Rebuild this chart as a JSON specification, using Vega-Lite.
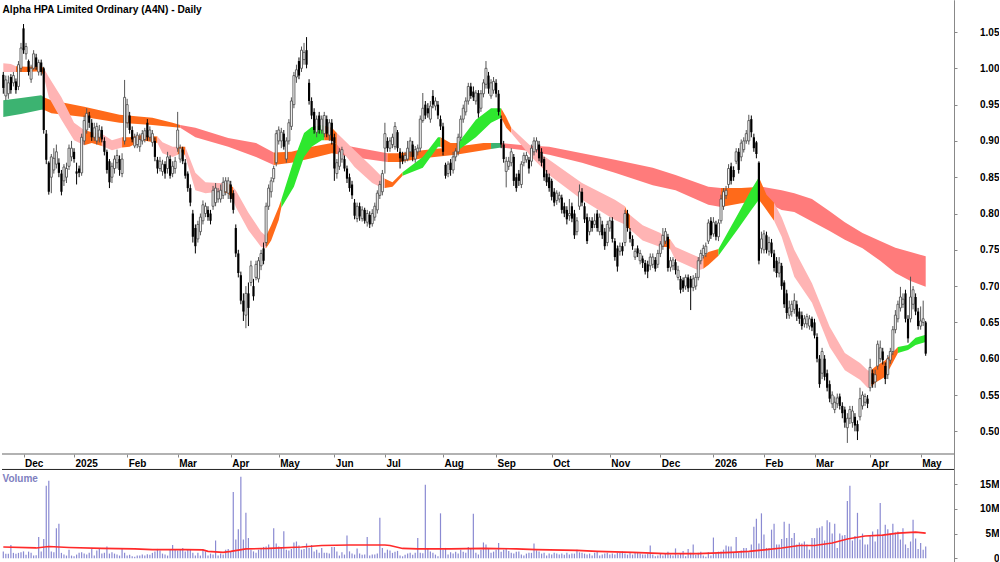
{
"$schema":"https://vega.github.io/schema/vega-lite/v6.json",
"width":952,"height":562,"padding":0,"background":"white",
"config":{"view":{"stroke":null},"font":"Liberation Sans","axis":{"grid":false}},
"datasets":{
"candles":[
{"d":"2024-11-20","o":0.991,"h":0.995,"l":0.965,"c":0.973,"v":1.4},
{"d":"2024-11-21","o":0.962,"h":0.99,"l":0.956,"c":0.984,"v":0.9},
{"d":"2024-11-22","o":0.965,"h":0.99,"l":0.958,"c":0.98,"v":0.9},
{"d":"2024-11-25","o":0.988,"h":0.992,"l":0.965,"c":0.97,"v":2.7},
{"d":"2024-11-26","o":0.98,"h":0.995,"l":0.975,"c":0.99,"v":1.1},
{"d":"2024-11-27","o":0.982,"h":0.986,"l":0.965,"c":0.97,"v":0.9},
{"d":"2024-11-28","o":0.975,"h":1.01,"l":0.97,"c":1.005,"v":1.1},
{"d":"2024-11-29","o":1.0,"h":1.035,"l":0.995,"c":1.028,"v":1.2},
{"d":"2024-12-02","o":1.055,"h":1.061,"l":1.02,"c":1.025,"v":1.4},
{"d":"2024-12-03","o":1.02,"h":1.035,"l":1.012,"c":1.03,"v":0.7},
{"d":"2024-12-04","o":1.01,"h":1.012,"l":0.99,"c":0.995,"v":1.35},
{"d":"2024-12-05","o":0.985,"h":1.005,"l":0.98,"c":1.0,"v":1.1},
{"d":"2024-12-06","o":1.0,"h":1.025,"l":0.998,"c":1.02,"v":0.55},
{"d":"2024-12-09","o":1.015,"h":1.02,"l":0.998,"c":1.002,"v":0.6},
{"d":"2024-12-10","o":0.995,"h":1.012,"l":0.99,"c":1.008,"v":4.3},
{"d":"2024-12-11","o":1.008,"h":1.012,"l":0.99,"c":0.995,"v":1.4},
{"d":"2024-12-12","o":1.0,"h":1.002,"l":0.91,"c":0.915,"v":3.9},
{"d":"2024-12-13","o":0.91,"h":0.915,"l":0.868,"c":0.874,"v":14.7},
{"d":"2024-12-16","o":0.87,"h":0.872,"l":0.826,"c":0.83,"v":15.7},
{"d":"2024-12-17","o":0.85,"h":0.882,"l":0.828,"c":0.878,"v":1.4},
{"d":"2024-12-18","o":0.86,"h":0.89,"l":0.855,"c":0.876,"v":1.2},
{"d":"2024-12-19","o":0.868,"h":0.895,"l":0.862,"c":0.885,"v":6.1},
{"d":"2024-12-20","o":0.87,"h":0.876,"l":0.85,"c":0.856,"v":7.0},
{"d":"2024-12-23","o":0.855,"h":0.86,"l":0.825,"c":0.83,"v":1.1},
{"d":"2024-12-24","o":0.845,"h":0.868,"l":0.838,"c":0.864,"v":0.75},
{"d":"2024-12-27","o":0.85,"h":0.87,"l":0.842,"c":0.862,"v":0.55},
{"d":"2024-12-30","o":0.865,"h":0.895,"l":0.86,"c":0.89,"v":1.75},
{"d":"2024-12-31","o":0.878,"h":0.9,"l":0.872,"c":0.89,"v":0.55},
{"d":"2025-01-02","o":0.885,"h":0.89,"l":0.87,"c":0.875,"v":0.4},
{"d":"2025-01-03","o":0.858,"h":0.87,"l":0.84,"c":0.855,"v":0.75},
{"d":"2025-01-06","o":0.862,"h":0.866,"l":0.85,"c":0.856,"v":1.1},
{"d":"2025-01-07","o":0.856,"h":0.91,"l":0.852,"c":0.905,"v":1.2},
{"d":"2025-01-08","o":0.9,"h":0.935,"l":0.895,"c":0.928,"v":0.95},
{"d":"2025-01-09","o":0.915,"h":0.945,"l":0.91,"c":0.938,"v":0.75},
{"d":"2025-01-10","o":0.935,"h":0.94,"l":0.918,"c":0.925,"v":1.1},
{"d":"2025-01-13","o":0.925,"h":0.93,"l":0.9,"c":0.905,"v":1.9},
{"d":"2025-01-14","o":0.905,"h":0.925,"l":0.9,"c":0.918,"v":0.55},
{"d":"2025-01-15","o":0.9,"h":0.925,"l":0.895,"c":0.92,"v":1.6},
{"d":"2025-01-16","o":0.905,"h":0.922,"l":0.898,"c":0.915,"v":1.9},
{"d":"2025-01-17","o":0.915,"h":0.92,"l":0.898,"c":0.902,"v":0.95},
{"d":"2025-01-20","o":0.9,"h":0.905,"l":0.88,"c":0.885,"v":1.1},
{"d":"2025-01-21","o":0.885,"h":0.888,"l":0.855,"c":0.86,"v":2.4},
{"d":"2025-01-22","o":0.872,"h":0.875,"l":0.835,"c":0.843,"v":0.95},
{"d":"2025-01-23","o":0.85,"h":0.87,"l":0.842,"c":0.865,"v":1.2},
{"d":"2025-01-24","o":0.862,"h":0.88,"l":0.855,"c":0.875,"v":0.95},
{"d":"2025-01-28","o":0.87,"h":0.888,"l":0.862,"c":0.88,"v":0.75},
{"d":"2025-01-29","o":0.875,"h":0.88,"l":0.852,"c":0.86,"v":0.55},
{"d":"2025-01-30","o":0.855,"h":0.883,"l":0.85,"c":0.875,"v":2.1},
{"d":"2025-01-31","o":0.9,"h":0.984,"l":0.895,"c":0.96,"v":1.1},
{"d":"2025-02-03","o":0.925,"h":0.958,"l":0.918,"c":0.95,"v":0.55},
{"d":"2025-02-04","o":0.935,"h":0.94,"l":0.91,"c":0.915,"v":0.7},
{"d":"2025-02-05","o":0.915,"h":0.92,"l":0.898,"c":0.902,"v":0.4},
{"d":"2025-02-06","o":0.893,"h":0.91,"l":0.89,"c":0.905,"v":0.3},
{"d":"2025-02-07","o":0.895,"h":0.912,"l":0.89,"c":0.908,"v":0.55},
{"d":"2025-02-10","o":0.892,"h":0.91,"l":0.885,"c":0.902,"v":0.55},
{"d":"2025-02-11","o":0.9,"h":0.915,"l":0.895,"c":0.91,"v":0.75},
{"d":"2025-02-12","o":0.902,"h":0.918,"l":0.898,"c":0.914,"v":0.55},
{"d":"2025-02-13","o":0.925,"h":0.93,"l":0.9,"c":0.905,"v":0.8},
{"d":"2025-02-14","o":0.905,"h":0.92,"l":0.9,"c":0.915,"v":0.7},
{"d":"2025-02-17","o":0.898,"h":0.915,"l":0.892,"c":0.91,"v":1.1},
{"d":"2025-02-18","o":0.9,"h":0.905,"l":0.872,"c":0.878,"v":1.4},
{"d":"2025-02-19","o":0.874,"h":0.878,"l":0.855,"c":0.862,"v":1.9},
{"d":"2025-02-20","o":0.862,"h":0.878,"l":0.858,"c":0.872,"v":1.6},
{"d":"2025-02-21","o":0.858,"h":0.874,"l":0.852,"c":0.868,"v":0.95},
{"d":"2025-02-24","o":0.868,"h":0.872,"l":0.848,"c":0.855,"v":0.75},
{"d":"2025-02-25","o":0.862,"h":0.885,"l":0.855,"c":0.878,"v":0.55},
{"d":"2025-02-26","o":0.875,"h":0.88,"l":0.848,"c":0.852,"v":1.75},
{"d":"2025-02-27","o":0.855,"h":0.872,"l":0.85,"c":0.865,"v":2.7},
{"d":"2025-02-28","o":0.862,"h":0.878,"l":0.855,"c":0.872,"v":1.75},
{"d":"2025-03-03","o":0.89,"h":0.94,"l":0.885,"c":0.915,"v":1.6},
{"d":"2025-03-04","o":0.875,"h":0.895,"l":0.87,"c":0.89,"v":1.9},
{"d":"2025-03-05","o":0.888,"h":0.892,"l":0.868,"c":0.872,"v":2.1},
{"d":"2025-03-06","o":0.87,"h":0.875,"l":0.848,"c":0.852,"v":1.4},
{"d":"2025-03-07","o":0.855,"h":0.858,"l":0.83,"c":0.835,"v":1.9},
{"d":"2025-03-10","o":0.835,"h":0.84,"l":0.81,"c":0.815,"v":1.75},
{"d":"2025-03-11","o":0.8,"h":0.805,"l":0.76,"c":0.768,"v":1.1},
{"d":"2025-03-12","o":0.78,"h":0.785,"l":0.745,"c":0.755,"v":0.55},
{"d":"2025-03-13","o":0.765,"h":0.79,"l":0.76,"c":0.785,"v":1.1},
{"d":"2025-03-14","o":0.775,"h":0.8,"l":0.77,"c":0.795,"v":0.55},
{"d":"2025-03-17","o":0.79,"h":0.818,"l":0.785,"c":0.812,"v":1.75},
{"d":"2025-03-18","o":0.8,"h":0.815,"l":0.795,"c":0.81,"v":1.4},
{"d":"2025-03-19","o":0.805,"h":0.81,"l":0.79,"c":0.795,"v":0.55},
{"d":"2025-03-20","o":0.8,"h":0.805,"l":0.785,"c":0.79,"v":0.95},
{"d":"2025-03-21","o":0.81,"h":0.838,"l":0.805,"c":0.832,"v":0.75},
{"d":"2025-03-24","o":0.815,"h":0.842,"l":0.81,"c":0.835,"v":3.6},
{"d":"2025-03-25","o":0.82,"h":0.835,"l":0.815,"c":0.83,"v":0.55},
{"d":"2025-03-26","o":0.82,"h":0.84,"l":0.815,"c":0.832,"v":0.95},
{"d":"2025-03-27","o":0.825,"h":0.85,"l":0.82,"c":0.843,"v":0.75},
{"d":"2025-03-28","o":0.83,"h":0.85,"l":0.825,"c":0.845,"v":1.75},
{"d":"2025-03-31","o":0.828,"h":0.85,"l":0.82,"c":0.845,"v":1.9},
{"d":"2025-04-01","o":0.84,"h":0.845,"l":0.815,"c":0.82,"v":1.4},
{"d":"2025-04-02","o":0.828,"h":0.832,"l":0.8,"c":0.805,"v":13.4},
{"d":"2025-04-03","o":0.78,"h":0.785,"l":0.74,"c":0.745,"v":3.8},
{"d":"2025-04-04","o":0.745,"h":0.75,"l":0.712,"c":0.718,"v":5.9},
{"d":"2025-04-07","o":0.715,"h":0.72,"l":0.675,"c":0.68,"v":16.5},
{"d":"2025-04-08","o":0.68,"h":0.69,"l":0.652,"c":0.665,"v":3.8},
{"d":"2025-04-09","o":0.66,"h":0.7,"l":0.642,"c":0.69,"v":9.2},
{"d":"2025-04-10","o":0.69,"h":0.705,"l":0.645,"c":0.67,"v":4.1},
{"d":"2025-04-11","o":0.705,"h":0.735,"l":0.7,"c":0.728,"v":1.75},
{"d":"2025-04-14","o":0.7,"h":0.71,"l":0.68,"c":0.686,"v":1.4},
{"d":"2025-04-15","o":0.712,"h":0.735,"l":0.708,"c":0.73,"v":1.1},
{"d":"2025-04-16","o":0.71,"h":0.74,"l":0.705,"c":0.735,"v":1.75},
{"d":"2025-04-17","o":0.728,"h":0.75,"l":0.722,"c":0.745,"v":2.1},
{"d":"2025-04-22","o":0.752,"h":0.76,"l":0.73,"c":0.735,"v":2.3},
{"d":"2025-04-23","o":0.76,"h":0.815,"l":0.755,"c":0.81,"v":2.4},
{"d":"2025-04-24","o":0.81,"h":0.84,"l":0.805,"c":0.835,"v":2.8},
{"d":"2025-04-28","o":0.83,"h":0.85,"l":0.822,"c":0.845,"v":1.9},
{"d":"2025-04-29","o":0.848,"h":0.866,"l":0.843,"c":0.862,"v":6.1},
{"d":"2025-04-30","o":0.87,"h":0.915,"l":0.865,"c":0.91,"v":3.0},
{"d":"2025-05-01","o":0.9,"h":0.92,"l":0.895,"c":0.915,"v":2.4},
{"d":"2025-05-02","o":0.9,"h":0.918,"l":0.89,"c":0.912,"v":2.3},
{"d":"2025-05-05","o":0.91,"h":0.915,"l":0.888,"c":0.892,"v":5.5},
{"d":"2025-05-06","o":0.875,"h":0.905,"l":0.87,"c":0.9,"v":1.75},
{"d":"2025-05-07","o":0.9,"h":0.93,"l":0.895,"c":0.925,"v":1.6},
{"d":"2025-05-08","o":0.92,"h":0.96,"l":0.915,"c":0.955,"v":1.9},
{"d":"2025-05-09","o":0.95,"h":0.995,"l":0.945,"c":0.99,"v":3.2},
{"d":"2025-05-12","o":0.988,"h":1.005,"l":0.98,"c":0.998,"v":3.4},
{"d":"2025-05-13","o":1.01,"h":1.015,"l":0.985,"c":0.99,"v":2.6},
{"d":"2025-05-14","o":1.0,"h":1.03,"l":0.995,"c":1.025,"v":1.75},
{"d":"2025-05-15","o":1.012,"h":1.035,"l":1.005,"c":1.022,"v":1.9},
{"d":"2025-05-16","o":1.025,"h":1.043,"l":1.0,"c":1.005,"v":3.0},
{"d":"2025-05-19","o":0.98,"h":0.985,"l":0.95,"c":0.955,"v":2.1},
{"d":"2025-05-20","o":0.955,"h":0.96,"l":0.93,"c":0.935,"v":2.7},
{"d":"2025-05-21","o":0.94,"h":0.945,"l":0.91,"c":0.915,"v":1.4},
{"d":"2025-05-22","o":0.912,"h":0.935,"l":0.905,"c":0.93,"v":1.75},
{"d":"2025-05-23","o":0.935,"h":0.94,"l":0.91,"c":0.915,"v":1.1},
{"d":"2025-05-26","o":0.915,"h":0.935,"l":0.91,"c":0.93,"v":2.1},
{"d":"2025-05-27","o":0.91,"h":0.94,"l":0.905,"c":0.935,"v":1.1},
{"d":"2025-05-28","o":0.93,"h":0.935,"l":0.905,"c":0.91,"v":1.1},
{"d":"2025-05-29","o":0.908,"h":0.93,"l":0.9,"c":0.925,"v":0.95},
{"d":"2025-05-30","o":0.925,"h":0.93,"l":0.895,"c":0.9,"v":2.3},
{"d":"2025-06-02","o":0.905,"h":0.91,"l":0.845,"c":0.862,"v":2.3},
{"d":"2025-06-03","o":0.855,"h":0.875,"l":0.848,"c":0.87,"v":1.4},
{"d":"2025-06-04","o":0.865,"h":0.89,"l":0.86,"c":0.885,"v":0.55},
{"d":"2025-06-05","o":0.875,"h":0.892,"l":0.87,"c":0.888,"v":1.2},
{"d":"2025-06-06","o":0.875,"h":0.88,"l":0.858,"c":0.862,"v":0.75},
{"d":"2025-06-10","o":0.862,"h":0.866,"l":0.842,"c":0.848,"v":4.6},
{"d":"2025-06-11","o":0.85,"h":0.855,"l":0.83,"c":0.835,"v":1.4},
{"d":"2025-06-12","o":0.84,"h":0.845,"l":0.82,"c":0.825,"v":0.95},
{"d":"2025-06-13","o":0.815,"h":0.82,"l":0.792,"c":0.797,"v":0.75},
{"d":"2025-06-16","o":0.793,"h":0.815,"l":0.788,"c":0.81,"v":2.0},
{"d":"2025-06-17","o":0.81,"h":0.815,"l":0.79,"c":0.796,"v":0.95},
{"d":"2025-06-18","o":0.793,"h":0.81,"l":0.789,"c":0.805,"v":0.7},
{"d":"2025-06-19","o":0.805,"h":0.808,"l":0.786,"c":0.79,"v":0.75},
{"d":"2025-06-20","o":0.788,"h":0.805,"l":0.782,"c":0.8,"v":4.3},
{"d":"2025-06-23","o":0.798,"h":0.803,"l":0.78,"c":0.785,"v":0.55},
{"d":"2025-06-24","o":0.786,"h":0.806,"l":0.782,"c":0.8,"v":0.75},
{"d":"2025-06-25","o":0.795,"h":0.815,"l":0.79,"c":0.81,"v":0.75},
{"d":"2025-06-26","o":0.805,"h":0.832,"l":0.8,"c":0.828,"v":0.95},
{"d":"2025-06-27","o":0.825,"h":0.845,"l":0.82,"c":0.84,"v":8.2},
{"d":"2025-06-30","o":0.83,"h":0.86,"l":0.825,"c":0.855,"v":2.1},
{"d":"2025-07-01","o":0.89,"h":0.925,"l":0.855,"c":0.91,"v":1.1},
{"d":"2025-07-02","o":0.9,"h":0.905,"l":0.885,"c":0.89,"v":1.75},
{"d":"2025-07-03","o":0.89,"h":0.905,"l":0.885,"c":0.9,"v":1.6},
{"d":"2025-07-04","o":0.895,"h":0.91,"l":0.89,"c":0.905,"v":1.1},
{"d":"2025-07-07","o":0.892,"h":0.926,"l":0.888,"c":0.92,"v":1.35},
{"d":"2025-07-08","o":0.912,"h":0.915,"l":0.885,"c":0.89,"v":1.5},
{"d":"2025-07-09","o":0.885,"h":0.89,"l":0.862,"c":0.876,"v":0.55},
{"d":"2025-07-10","o":0.88,"h":0.885,"l":0.868,"c":0.872,"v":0.4},
{"d":"2025-07-11","o":0.874,"h":0.885,"l":0.87,"c":0.88,"v":0.7},
{"d":"2025-07-14","o":0.875,"h":0.9,"l":0.872,"c":0.89,"v":0.95},
{"d":"2025-07-15","o":0.885,"h":0.905,"l":0.878,"c":0.9,"v":1.1},
{"d":"2025-07-16","o":0.895,"h":0.9,"l":0.872,"c":0.878,"v":0.7},
{"d":"2025-07-17","o":0.875,"h":0.893,"l":0.87,"c":0.888,"v":1.1},
{"d":"2025-07-18","o":0.885,"h":0.895,"l":0.88,"c":0.89,"v":4.1},
{"d":"2025-07-21","o":0.89,"h":0.935,"l":0.885,"c":0.93,"v":1.1},
{"d":"2025-07-22","o":0.928,"h":0.966,"l":0.925,"c":0.945,"v":1.0},
{"d":"2025-07-23","o":0.95,"h":0.955,"l":0.93,"c":0.935,"v":14.9},
{"d":"2025-07-24","o":0.945,"h":0.952,"l":0.932,"c":0.938,"v":2.0},
{"d":"2025-07-25","o":0.93,"h":0.955,"l":0.925,"c":0.948,"v":1.4},
{"d":"2025-07-28","o":0.962,"h":0.97,"l":0.945,"c":0.95,"v":1.1},
{"d":"2025-07-29","o":0.948,"h":0.96,"l":0.942,"c":0.955,"v":0.75},
{"d":"2025-07-30","o":0.95,"h":0.955,"l":0.93,"c":0.935,"v":0.4},
{"d":"2025-07-31","o":0.93,"h":0.935,"l":0.915,"c":0.92,"v":9.1},
{"d":"2025-08-01","o":0.92,"h":0.925,"l":0.88,"c":0.885,"v":1.75},
{"d":"2025-08-04","o":0.867,"h":0.87,"l":0.848,"c":0.852,"v":2.1},
{"d":"2025-08-05","o":0.855,"h":0.872,"l":0.85,"c":0.868,"v":0.75},
{"d":"2025-08-06","o":0.87,"h":0.875,"l":0.852,"c":0.86,"v":1.2},
{"d":"2025-08-07","o":0.86,"h":0.885,"l":0.855,"c":0.878,"v":0.95},
{"d":"2025-08-08","o":0.878,"h":0.89,"l":0.872,"c":0.886,"v":1.35},
{"d":"2025-08-11","o":0.885,"h":0.91,"l":0.88,"c":0.905,"v":0.95},
{"d":"2025-08-12","o":0.905,"h":0.935,"l":0.9,"c":0.93,"v":1.75},
{"d":"2025-08-13","o":0.93,"h":0.95,"l":0.925,"c":0.945,"v":1.35},
{"d":"2025-08-14","o":0.94,"h":0.96,"l":0.935,"c":0.955,"v":1.1},
{"d":"2025-08-15","o":0.955,"h":0.98,"l":0.95,"c":0.975,"v":2.3},
{"d":"2025-08-18","o":0.975,"h":0.98,"l":0.958,"c":0.962,"v":2.0},
{"d":"2025-08-19","o":0.968,"h":0.975,"l":0.955,"c":0.96,"v":9.0},
{"d":"2025-08-20","o":0.955,"h":0.97,"l":0.95,"c":0.966,"v":1.1},
{"d":"2025-08-21","o":0.966,"h":0.97,"l":0.932,"c":0.938,"v":0.75},
{"d":"2025-08-22","o":0.945,"h":0.97,"l":0.94,"c":0.965,"v":1.75},
{"d":"2025-08-25","o":0.965,"h":0.985,"l":0.96,"c":0.98,"v":3.2},
{"d":"2025-08-26","o":0.978,"h":1.01,"l":0.972,"c":1.0,"v":2.8},
{"d":"2025-08-27","o":0.99,"h":0.995,"l":0.965,"c":0.972,"v":1.9},
{"d":"2025-08-28","o":0.962,"h":0.985,"l":0.958,"c":0.98,"v":1.1},
{"d":"2025-08-29","o":0.97,"h":0.988,"l":0.965,"c":0.982,"v":1.35},
{"d":"2025-09-01","o":0.98,"h":0.985,"l":0.96,"c":0.965,"v":1.75},
{"d":"2025-09-02","o":0.965,"h":0.97,"l":0.935,"c":0.94,"v":3.1},
{"d":"2025-09-03","o":0.93,"h":0.935,"l":0.89,"c":0.895,"v":1.35},
{"d":"2025-09-04","o":0.895,"h":0.9,"l":0.87,"c":0.875,"v":1.75},
{"d":"2025-09-05","o":0.858,"h":0.878,"l":0.836,"c":0.872,"v":2.0},
{"d":"2025-09-08","o":0.865,"h":0.878,"l":0.86,"c":0.872,"v":1.5},
{"d":"2025-09-09","o":0.87,"h":0.89,"l":0.865,"c":0.885,"v":1.1},
{"d":"2025-09-10","o":0.878,"h":0.882,"l":0.838,"c":0.845,"v":0.95},
{"d":"2025-09-11","o":0.85,"h":0.855,"l":0.83,"c":0.835,"v":1.35},
{"d":"2025-09-12","o":0.855,"h":0.86,"l":0.838,"c":0.845,"v":1.4},
{"d":"2025-09-15","o":0.84,"h":0.872,"l":0.835,"c":0.868,"v":0.75},
{"d":"2025-09-16","o":0.87,"h":0.884,"l":0.865,"c":0.88,"v":0.55},
{"d":"2025-09-17","o":0.874,"h":0.885,"l":0.87,"c":0.88,"v":0.95},
{"d":"2025-09-18","o":0.874,"h":0.878,"l":0.855,"c":0.862,"v":1.1},
{"d":"2025-09-19","o":0.872,"h":0.895,"l":0.865,"c":0.89,"v":1.1},
{"d":"2025-09-22","o":0.885,"h":0.905,"l":0.88,"c":0.9,"v":3.0},
{"d":"2025-09-23","o":0.888,"h":0.905,"l":0.884,"c":0.9,"v":1.6},
{"d":"2025-09-24","o":0.895,"h":0.9,"l":0.872,"c":0.876,"v":1.4},
{"d":"2025-09-25","o":0.885,"h":0.89,"l":0.865,"c":0.87,"v":0.95},
{"d":"2025-09-26","o":0.875,"h":0.878,"l":0.845,"c":0.85,"v":1.1},
{"d":"2025-09-29","o":0.855,"h":0.86,"l":0.838,"c":0.843,"v":0.55},
{"d":"2025-09-30","o":0.85,"h":0.855,"l":0.83,"c":0.835,"v":0.95},
{"d":"2025-10-01","o":0.845,"h":0.848,"l":0.818,"c":0.823,"v":0.75},
{"d":"2025-10-02","o":0.83,"h":0.835,"l":0.81,"c":0.815,"v":1.1},
{"d":"2025-10-03","o":0.818,"h":0.832,"l":0.812,"c":0.828,"v":0.95},
{"d":"2025-10-06","o":0.82,"h":0.83,"l":0.815,"c":0.825,"v":0.75},
{"d":"2025-10-07","o":0.822,"h":0.826,"l":0.8,"c":0.805,"v":0.95},
{"d":"2025-10-08","o":0.81,"h":0.815,"l":0.795,"c":0.8,"v":0.7},
{"d":"2025-10-09","o":0.805,"h":0.81,"l":0.785,"c":0.792,"v":1.1},
{"d":"2025-10-10","o":0.797,"h":0.82,"l":0.79,"c":0.8,"v":0.75},
{"d":"2025-10-13","o":0.81,"h":0.815,"l":0.788,"c":0.793,"v":0.95},
{"d":"2025-10-14","o":0.8,"h":0.805,"l":0.765,"c":0.77,"v":0.95},
{"d":"2025-10-15","o":0.775,"h":0.795,"l":0.77,"c":0.79,"v":1.75},
{"d":"2025-10-16","o":0.81,"h":0.84,"l":0.805,"c":0.83,"v":1.2},
{"d":"2025-10-17","o":0.83,"h":0.835,"l":0.81,"c":0.815,"v":1.1},
{"d":"2025-10-20","o":0.81,"h":0.815,"l":0.787,"c":0.792,"v":0.95},
{"d":"2025-10-21","o":0.795,"h":0.8,"l":0.758,"c":0.762,"v":0.75},
{"d":"2025-10-22","o":0.775,"h":0.795,"l":0.77,"c":0.79,"v":0.95},
{"d":"2025-10-23","o":0.79,"h":0.795,"l":0.775,"c":0.78,"v":0.55},
{"d":"2025-10-24","o":0.785,"h":0.8,"l":0.78,"c":0.79,"v":1.1},
{"d":"2025-10-27","o":0.8,"h":0.805,"l":0.775,"c":0.78,"v":1.4},
{"d":"2025-10-28","o":0.775,"h":0.8,"l":0.77,"c":0.795,"v":0.55},
{"d":"2025-10-29","o":0.785,"h":0.79,"l":0.765,"c":0.77,"v":0.75},
{"d":"2025-10-30","o":0.775,"h":0.78,"l":0.75,"c":0.755,"v":0.95},
{"d":"2025-10-31","o":0.76,"h":0.79,"l":0.755,"c":0.785,"v":1.1},
{"d":"2025-11-03","o":0.78,"h":0.795,"l":0.775,"c":0.79,"v":0.75},
{"d":"2025-11-04","o":0.79,"h":0.795,"l":0.76,"c":0.765,"v":0.95},
{"d":"2025-11-05","o":0.762,"h":0.766,"l":0.735,"c":0.74,"v":0.75},
{"d":"2025-11-06","o":0.752,"h":0.756,"l":0.72,"c":0.727,"v":1.1},
{"d":"2025-11-07","o":0.748,"h":0.76,"l":0.742,"c":0.755,"v":1.1},
{"d":"2025-11-10","o":0.755,"h":0.76,"l":0.742,"c":0.748,"v":1.4},
{"d":"2025-11-11","o":0.76,"h":0.805,"l":0.755,"c":0.8,"v":0.95},
{"d":"2025-11-12","o":0.8,"h":0.805,"l":0.775,"c":0.78,"v":0.75},
{"d":"2025-11-13","o":0.775,"h":0.78,"l":0.76,"c":0.765,"v":1.1},
{"d":"2025-11-14","o":0.765,"h":0.77,"l":0.75,"c":0.755,"v":0.75},
{"d":"2025-11-17","o":0.74,"h":0.752,"l":0.736,"c":0.748,"v":1.1},
{"d":"2025-11-18","o":0.752,"h":0.756,"l":0.74,"c":0.745,"v":1.1},
{"d":"2025-11-19","o":0.735,"h":0.75,"l":0.73,"c":0.745,"v":0.95},
{"d":"2025-11-20","o":0.738,"h":0.742,"l":0.725,"c":0.732,"v":0.75},
{"d":"2025-11-21","o":0.732,"h":0.736,"l":0.716,"c":0.72,"v":0.75},
{"d":"2025-11-24","o":0.73,"h":0.735,"l":0.711,"c":0.72,"v":0.95},
{"d":"2025-11-25","o":0.728,"h":0.745,"l":0.722,"c":0.74,"v":2.6},
{"d":"2025-11-26","o":0.73,"h":0.745,"l":0.725,"c":0.74,"v":0.75},
{"d":"2025-11-27","o":0.736,"h":0.74,"l":0.72,"c":0.724,"v":0.4},
{"d":"2025-11-28","o":0.73,"h":0.75,"l":0.725,"c":0.745,"v":0.55},
{"d":"2025-12-01","o":0.745,"h":0.762,"l":0.74,"c":0.758,"v":0.95},
{"d":"2025-12-02","o":0.755,"h":0.78,"l":0.75,"c":0.77,"v":0.55},
{"d":"2025-12-03","o":0.762,"h":0.78,"l":0.758,"c":0.775,"v":0.95},
{"d":"2025-12-04","o":0.768,"h":0.772,"l":0.72,"c":0.725,"v":1.35},
{"d":"2025-12-05","o":0.726,"h":0.74,"l":0.72,"c":0.735,"v":0.75},
{"d":"2025-12-08","o":0.728,"h":0.74,"l":0.722,"c":0.736,"v":0.55},
{"d":"2025-12-09","o":0.733,"h":0.737,"l":0.716,"c":0.722,"v":2.0},
{"d":"2025-12-10","o":0.712,"h":0.728,"l":0.708,"c":0.722,"v":0.7},
{"d":"2025-12-11","o":0.71,"h":0.714,"l":0.69,"c":0.695,"v":0.95},
{"d":"2025-12-12","o":0.708,"h":0.712,"l":0.692,"c":0.697,"v":1.5},
{"d":"2025-12-15","o":0.7,"h":0.716,"l":0.695,"c":0.712,"v":0.4},
{"d":"2025-12-16","o":0.712,"h":0.716,"l":0.692,"c":0.697,"v":1.9},
{"d":"2025-12-17","o":0.71,"h":0.714,"l":0.667,"c":0.698,"v":1.1},
{"d":"2025-12-18","o":0.698,"h":0.715,"l":0.693,"c":0.71,"v":2.8},
{"d":"2025-12-19","o":0.7,"h":0.718,"l":0.695,"c":0.712,"v":0.7},
{"d":"2025-12-22","o":0.712,"h":0.74,"l":0.708,"c":0.735,"v":1.1},
{"d":"2025-12-23","o":0.735,"h":0.75,"l":0.73,"c":0.745,"v":1.35},
{"d":"2025-12-24","o":0.742,"h":0.757,"l":0.738,"c":0.752,"v":0.55},
{"d":"2025-12-29","o":0.745,"h":0.76,"l":0.74,"c":0.755,"v":0.3},
{"d":"2025-12-30","o":0.762,"h":0.792,"l":0.758,"c":0.787,"v":1.2},
{"d":"2025-12-31","o":0.79,"h":0.795,"l":0.765,"c":0.77,"v":0.55},
{"d":"2026-01-02","o":0.772,"h":0.795,"l":0.768,"c":0.788,"v":4.2},
{"d":"2026-01-05","o":0.785,"h":0.79,"l":0.763,"c":0.768,"v":1.1},
{"d":"2026-01-06","o":0.768,"h":0.792,"l":0.762,"c":0.787,"v":1.35},
{"d":"2026-01-07","o":0.79,"h":0.826,"l":0.786,"c":0.82,"v":1.4},
{"d":"2026-01-08","o":0.81,"h":0.835,"l":0.805,"c":0.83,"v":1.75},
{"d":"2026-01-09","o":0.825,"h":0.838,"l":0.82,"c":0.832,"v":2.6},
{"d":"2026-01-12","o":0.84,"h":0.868,"l":0.835,"c":0.862,"v":2.4},
{"d":"2026-01-13","o":0.865,"h":0.87,"l":0.84,"c":0.845,"v":2.4},
{"d":"2026-01-14","o":0.86,"h":0.865,"l":0.845,"c":0.85,"v":1.1},
{"d":"2026-01-15","o":0.872,"h":0.89,"l":0.868,"c":0.885,"v":4.3},
{"d":"2026-01-16","o":0.885,"h":0.89,"l":0.855,"c":0.86,"v":1.1},
{"d":"2026-01-19","o":0.878,"h":0.902,"l":0.872,"c":0.897,"v":1.6},
{"d":"2026-01-20","o":0.888,"h":0.905,"l":0.884,"c":0.9,"v":2.1},
{"d":"2026-01-21","o":0.9,"h":0.915,"l":0.896,"c":0.91,"v":2.1},
{"d":"2026-01-22","o":0.9,"h":0.936,"l":0.895,"c":0.928,"v":1.2},
{"d":"2026-01-23","o":0.93,"h":0.935,"l":0.905,"c":0.912,"v":2.8},
{"d":"2026-01-27","o":0.905,"h":0.91,"l":0.885,"c":0.89,"v":6.4},
{"d":"2026-01-28","o":0.898,"h":0.9,"l":0.876,"c":0.882,"v":8.0},
{"d":"2026-01-29","o":0.87,"h":0.872,"l":0.73,"c":0.735,"v":3.0},
{"d":"2026-01-30","o":0.752,"h":0.775,"l":0.745,"c":0.765,"v":9.1},
{"d":"2026-02-02","o":0.75,"h":0.777,"l":0.745,"c":0.772,"v":4.8},
{"d":"2026-02-03","o":0.77,"h":0.775,"l":0.745,"c":0.75,"v":2.1},
{"d":"2026-02-04","o":0.748,"h":0.768,"l":0.742,"c":0.76,"v":2.1},
{"d":"2026-02-05","o":0.76,"h":0.765,"l":0.74,"c":0.745,"v":5.8},
{"d":"2026-02-06","o":0.745,"h":0.75,"l":0.72,"c":0.725,"v":7.0},
{"d":"2026-02-09","o":0.735,"h":0.74,"l":0.712,"c":0.718,"v":2.8},
{"d":"2026-02-10","o":0.718,"h":0.74,"l":0.712,"c":0.732,"v":2.8},
{"d":"2026-02-11","o":0.728,"h":0.732,"l":0.695,"c":0.7,"v":3.9},
{"d":"2026-02-12","o":0.705,"h":0.708,"l":0.67,"c":0.675,"v":7.4},
{"d":"2026-02-13","o":0.69,"h":0.695,"l":0.655,"c":0.663,"v":4.1},
{"d":"2026-02-16","o":0.66,"h":0.68,"l":0.655,"c":0.67,"v":7.0},
{"d":"2026-02-17","o":0.665,"h":0.68,"l":0.658,"c":0.675,"v":4.1},
{"d":"2026-02-18","o":0.668,"h":0.69,"l":0.662,"c":0.68,"v":5.1},
{"d":"2026-02-19","o":0.675,"h":0.68,"l":0.652,"c":0.658,"v":2.8},
{"d":"2026-02-20","o":0.665,"h":0.67,"l":0.648,"c":0.655,"v":3.2},
{"d":"2026-02-23","o":0.66,"h":0.665,"l":0.64,"c":0.645,"v":3.0},
{"d":"2026-02-24","o":0.648,"h":0.66,"l":0.643,"c":0.655,"v":3.4},
{"d":"2026-02-25","o":0.648,"h":0.662,"l":0.642,"c":0.658,"v":2.8},
{"d":"2026-02-26","o":0.645,"h":0.66,"l":0.64,"c":0.655,"v":1.75},
{"d":"2026-02-27","o":0.655,"h":0.658,"l":0.638,"c":0.643,"v":4.1},
{"d":"2026-03-02","o":0.65,"h":0.655,"l":0.628,"c":0.632,"v":4.1},
{"d":"2026-03-03","o":0.63,"h":0.635,"l":0.595,"c":0.6,"v":6.1},
{"d":"2026-03-04","o":0.6,"h":0.605,"l":0.56,"c":0.565,"v":6.2},
{"d":"2026-03-05","o":0.58,"h":0.615,"l":0.572,"c":0.61,"v":6.5},
{"d":"2026-03-06","o":0.6,"h":0.605,"l":0.57,"c":0.575,"v":3.6},
{"d":"2026-03-09","o":0.58,"h":0.585,"l":0.555,"c":0.56,"v":7.7},
{"d":"2026-03-10","o":0.565,"h":0.57,"l":0.54,"c":0.545,"v":7.3},
{"d":"2026-03-11","o":0.538,"h":0.555,"l":0.532,"c":0.55,"v":5.0},
{"d":"2026-03-12","o":0.53,"h":0.548,"l":0.525,"c":0.54,"v":7.0},
{"d":"2026-03-13","o":0.538,"h":0.552,"l":0.532,"c":0.546,"v":2.1},
{"d":"2026-03-16","o":0.548,"h":0.552,"l":0.53,"c":0.535,"v":5.0},
{"d":"2026-03-17","o":0.535,"h":0.54,"l":0.518,"c":0.525,"v":4.6},
{"d":"2026-03-18","o":0.53,"h":0.534,"l":0.505,"c":0.512,"v":4.7},
{"d":"2026-03-19","o":0.505,"h":0.525,"l":0.484,"c":0.518,"v":11.6},
{"d":"2026-03-20","o":0.518,"h":0.535,"l":0.51,"c":0.53,"v":14.7},
{"d":"2026-03-23","o":0.512,"h":0.535,"l":0.505,"c":0.528,"v":3.6},
{"d":"2026-03-24","o":0.52,"h":0.525,"l":0.5,"c":0.508,"v":4.5},
{"d":"2026-03-25","o":0.51,"h":0.515,"l":0.488,"c":0.5,"v":9.2},
{"d":"2026-03-26","o":0.52,"h":0.56,"l":0.515,"c":0.545,"v":3.8},
{"d":"2026-03-27","o":0.535,"h":0.555,"l":0.53,"c":0.55,"v":5.0},
{"d":"2026-03-30","o":0.54,"h":0.552,"l":0.535,"c":0.548,"v":2.8},
{"d":"2026-03-31","o":0.545,"h":0.55,"l":0.532,"c":0.538,"v":2.8},
{"d":"2026-04-01","o":0.56,"h":0.6,"l":0.555,"c":0.588,"v":4.5},
{"d":"2026-04-02","o":0.58,"h":0.585,"l":0.56,"c":0.565,"v":5.4},
{"d":"2026-04-07","o":0.568,"h":0.585,"l":0.56,"c":0.578,"v":3.4},
{"d":"2026-04-08","o":0.59,"h":0.625,"l":0.585,"c":0.62,"v":5.9},
{"d":"2026-04-09","o":0.6,"h":0.625,"l":0.595,"c":0.615,"v":11.2},
{"d":"2026-04-10","o":0.61,"h":0.615,"l":0.592,"c":0.598,"v":4.8},
{"d":"2026-04-13","o":0.59,"h":0.595,"l":0.565,"c":0.572,"v":6.8},
{"d":"2026-04-14","o":0.578,"h":0.605,"l":0.572,"c":0.6,"v":5.9},
{"d":"2026-04-15","o":0.598,"h":0.615,"l":0.593,"c":0.61,"v":5.0},
{"d":"2026-04-16","o":0.61,"h":0.645,"l":0.605,"c":0.64,"v":7.0},
{"d":"2026-04-17","o":0.64,"h":0.667,"l":0.635,"c":0.66,"v":5.2},
{"d":"2026-04-20","o":0.655,"h":0.68,"l":0.65,"c":0.675,"v":5.4},
{"d":"2026-04-21","o":0.67,"h":0.699,"l":0.665,"c":0.685,"v":3.8},
{"d":"2026-04-22","o":0.675,"h":0.69,"l":0.67,"c":0.682,"v":6.1},
{"d":"2026-04-23","o":0.69,"h":0.695,"l":0.65,"c":0.655,"v":2.8},
{"d":"2026-04-24","o":0.655,"h":0.66,"l":0.622,"c":0.628,"v":2.1},
{"d":"2026-04-27","o":0.655,"h":0.713,"l":0.65,"c":0.685,"v":3.4},
{"d":"2026-04-28","o":0.675,"h":0.7,"l":0.668,"c":0.695,"v":7.8},
{"d":"2026-04-29","o":0.685,"h":0.69,"l":0.66,"c":0.665,"v":4.0},
{"d":"2026-04-30","o":0.665,"h":0.67,"l":0.64,"c":0.645,"v":1.9},
{"d":"2026-05-01","o":0.645,"h":0.672,"l":0.64,"c":0.652,"v":3.1},
{"d":"2026-05-04","o":0.65,"h":0.68,"l":0.645,"c":0.655,"v":1.75},
{"d":"2026-05-05","o":0.65,"h":0.652,"l":0.604,"c":0.607,"v":2.4}
],
"lband":[
{"d":"2024-11-20","lo":0.933,"hi":0.956,"s":1,"c":"lgreen"},
{"d":"2024-11-29","lo":0.937,"hi":0.959,"s":1,"c":"lgreen"},
{"d":"2024-12-11","lo":0.943,"hi":0.963,"s":1,"c":"lgreen"},
{"d":"2024-12-12","lo":0.943,"hi":0.96,"s":1,"c":"lgreen"},
{"d":"2024-12-12","lo":0.943,"hi":0.96,"s":2,"c":"orange"},
{"d":"2024-12-17","lo":0.938,"hi":0.956,"s":2,"c":"orange"},
{"d":"2025-01-08","lo":0.933,"hi":0.947,"s":2,"c":"orange"},
{"d":"2025-01-29","lo":0.925,"hi":0.936,"s":2,"c":"orange"},
{"d":"2025-02-17","lo":0.922,"hi":0.932,"s":2,"c":"orange"},
{"d":"2025-02-27","lo":0.919,"hi":0.925,"s":2,"c":"orange"},
{"d":"2025-03-04","lo":0.918,"hi":0.922,"s":2,"c":"orange"},
{"d":"2025-03-04","lo":0.918,"hi":0.922,"s":3,"c":"red"},
{"d":"2025-03-12","lo":0.905,"hi":0.918,"s":3,"c":"red"},
{"d":"2025-03-31","lo":0.892,"hi":0.904,"s":3,"c":"red"},
{"d":"2025-04-15","lo":0.878,"hi":0.897,"s":3,"c":"red"},
{"d":"2025-04-29","lo":0.867,"hi":0.884,"s":3,"c":"red"},
{"d":"2025-04-29","lo":0.867,"hi":0.884,"s":4,"c":"orange"},
{"d":"2025-05-08","lo":0.87,"hi":0.885,"s":4,"c":"orange"},
{"d":"2025-05-20","lo":0.876,"hi":0.892,"s":4,"c":"orange"},
{"d":"2025-05-30","lo":0.883,"hi":0.897,"s":4,"c":"orange"},
{"d":"2025-06-03","lo":0.882,"hi":0.896,"s":4,"c":"orange"},
{"d":"2025-06-03","lo":0.882,"hi":0.896,"s":5,"c":"red"},
{"d":"2025-06-12","lo":0.878,"hi":0.892,"s":5,"c":"red"},
{"d":"2025-07-02","lo":0.871,"hi":0.883,"s":5,"c":"red"},
{"d":"2025-07-02","lo":0.871,"hi":0.883,"s":6,"c":"orange"},
{"d":"2025-07-09","lo":0.871,"hi":0.883,"s":6,"c":"orange"},
{"d":"2025-07-22","lo":0.876,"hi":0.887,"s":6,"c":"orange"},
{"d":"2025-08-08","lo":0.881,"hi":0.892,"s":6,"c":"orange"},
{"d":"2025-08-25","lo":0.887,"hi":0.897,"s":6,"c":"orange"},
{"d":"2025-08-28","lo":0.889,"hi":0.897,"s":6,"c":"orange"},
{"d":"2025-08-28","lo":0.889,"hi":0.897,"s":7,"c":"lgreen"},
{"d":"2025-09-03","lo":0.891,"hi":0.897,"s":7,"c":"lgreen"},
{"d":"2025-09-03","lo":0.891,"hi":0.897,"s":8,"c":"red"},
{"d":"2025-09-16","lo":0.887,"hi":0.894,"s":8,"c":"red"},
{"d":"2025-09-30","lo":0.881,"hi":0.892,"s":8,"c":"red"},
{"d":"2025-10-17","lo":0.87,"hi":0.883,"s":8,"c":"red"},
{"d":"2025-11-05","lo":0.856,"hi":0.874,"s":8,"c":"red"},
{"d":"2025-11-26","lo":0.839,"hi":0.863,"s":8,"c":"red"},
{"d":"2025-12-09","lo":0.832,"hi":0.853,"s":8,"c":"red"},
{"d":"2025-12-30","lo":0.812,"hi":0.837,"s":8,"c":"red"},
{"d":"2026-01-07","lo":0.809,"hi":0.835,"s":8,"c":"red"},
{"d":"2026-01-07","lo":0.809,"hi":0.835,"s":9,"c":"orange"},
{"d":"2026-01-19","lo":0.814,"hi":0.835,"s":9,"c":"orange"},
{"d":"2026-01-30","lo":0.819,"hi":0.837,"s":9,"c":"orange"},
{"d":"2026-01-30","lo":0.819,"hi":0.837,"s":10,"c":"red"},
{"d":"2026-02-11","lo":0.805,"hi":0.832,"s":10,"c":"red"},
{"d":"2026-02-18","lo":0.802,"hi":0.828,"s":10,"c":"red"},
{"d":"2026-02-27","lo":0.789,"hi":0.82,"s":10,"c":"red"},
{"d":"2026-03-10","lo":0.776,"hi":0.803,"s":10,"c":"red"},
{"d":"2026-03-18","lo":0.764,"hi":0.788,"s":10,"c":"red"},
{"d":"2026-03-27","lo":0.752,"hi":0.773,"s":10,"c":"red"},
{"d":"2026-04-09","lo":0.735,"hi":0.762,"s":10,"c":"red"},
{"d":"2026-04-17","lo":0.718,"hi":0.753,"s":10,"c":"red"},
{"d":"2026-04-27","lo":0.707,"hi":0.747,"s":10,"c":"red"},
{"d":"2026-05-05","lo":0.699,"hi":0.741,"s":10,"c":"red"}
],
"sband":[
{"d":"2024-11-20","lo":0.995,"hi":1.007,"s":1,"c":"pink"},
{"d":"2024-11-25","lo":0.995,"hi":1.006,"s":1,"c":"pink"},
{"d":"2024-11-27","lo":0.995,"hi":1.003,"s":1,"c":"pink"},
{"d":"2024-11-27","lo":0.995,"hi":1.003,"s":2,"c":"orange"},
{"d":"2024-12-03","lo":0.995,"hi":1.002,"s":2,"c":"orange"},
{"d":"2024-12-11","lo":0.996,"hi":1.003,"s":2,"c":"orange"},
{"d":"2024-12-12","lo":0.989,"hi":1.0,"s":2,"c":"orange"},
{"d":"2024-12-12","lo":0.989,"hi":1.0,"s":3,"c":"pink"},
{"d":"2024-12-16","lo":0.96,"hi":0.988,"s":3,"c":"pink"},
{"d":"2024-12-23","lo":0.929,"hi":0.96,"s":3,"c":"pink"},
{"d":"2025-01-02","lo":0.901,"hi":0.925,"s":3,"c":"pink"},
{"d":"2025-01-08","lo":0.894,"hi":0.915,"s":3,"c":"pink"},
{"d":"2025-01-08","lo":0.894,"hi":0.915,"s":4,"c":"orange"},
{"d":"2025-01-13","lo":0.897,"hi":0.912,"s":4,"c":"orange"},
{"d":"2025-01-17","lo":0.893,"hi":0.91,"s":4,"c":"orange"},
{"d":"2025-01-17","lo":0.893,"hi":0.91,"s":5,"c":"pink"},
{"d":"2025-01-23","lo":0.887,"hi":0.901,"s":5,"c":"pink"},
{"d":"2025-01-30","lo":0.891,"hi":0.905,"s":5,"c":"pink"},
{"d":"2025-01-30","lo":0.891,"hi":0.905,"s":6,"c":"orange"},
{"d":"2025-02-04","lo":0.892,"hi":0.905,"s":6,"c":"orange"},
{"d":"2025-02-11","lo":0.901,"hi":0.908,"s":6,"c":"orange"},
{"d":"2025-02-19","lo":0.897,"hi":0.906,"s":6,"c":"orange"},
{"d":"2025-02-19","lo":0.897,"hi":0.906,"s":7,"c":"pink"},
{"d":"2025-02-21","lo":0.883,"hi":0.898,"s":7,"c":"pink"},
{"d":"2025-02-27","lo":0.878,"hi":0.892,"s":7,"c":"pink"},
{"d":"2025-03-03","lo":0.881,"hi":0.892,"s":7,"c":"pink"},
{"d":"2025-03-03","lo":0.881,"hi":0.892,"s":8,"c":"orange"},
{"d":"2025-03-05","lo":0.885,"hi":0.892,"s":8,"c":"orange"},
{"d":"2025-03-06","lo":0.879,"hi":0.892,"s":8,"c":"orange"},
{"d":"2025-03-06","lo":0.879,"hi":0.892,"s":9,"c":"pink"},
{"d":"2025-03-12","lo":0.832,"hi":0.856,"s":9,"c":"pink"},
{"d":"2025-03-18","lo":0.828,"hi":0.843,"s":9,"c":"pink"},
{"d":"2025-03-25","lo":0.83,"hi":0.842,"s":9,"c":"pink"},
{"d":"2025-03-27","lo":0.829,"hi":0.842,"s":9,"c":"pink"},
{"d":"2025-03-27","lo":0.829,"hi":0.842,"s":10,"c":"orange"},
{"d":"2025-03-31","lo":0.828,"hi":0.842,"s":10,"c":"orange"},
{"d":"2025-04-02","lo":0.818,"hi":0.836,"s":10,"c":"orange"},
{"d":"2025-04-02","lo":0.818,"hi":0.836,"s":11,"c":"pink"},
{"d":"2025-04-03","lo":0.809,"hi":0.832,"s":11,"c":"pink"},
{"d":"2025-04-10","lo":0.777,"hi":0.801,"s":11,"c":"pink"},
{"d":"2025-04-17","lo":0.754,"hi":0.775,"s":11,"c":"pink"},
{"d":"2025-04-23","lo":0.752,"hi":0.769,"s":11,"c":"pink"},
{"d":"2025-04-23","lo":0.752,"hi":0.769,"s":12,"c":"orange"},
{"d":"2025-04-28","lo":0.763,"hi":0.784,"s":12,"c":"orange"},
{"d":"2025-05-01","lo":0.791,"hi":0.809,"s":12,"c":"orange"},
{"d":"2025-05-02","lo":0.808,"hi":0.819,"s":12,"c":"orange"},
{"d":"2025-05-02","lo":0.808,"hi":0.819,"s":13,"c":"green"},
{"d":"2025-05-09","lo":0.837,"hi":0.874,"s":13,"c":"green"},
{"d":"2025-05-15","lo":0.878,"hi":0.911,"s":13,"c":"green"},
{"d":"2025-05-20","lo":0.892,"hi":0.919,"s":13,"c":"green"},
{"d":"2025-05-26","lo":0.901,"hi":0.922,"s":13,"c":"green"},
{"d":"2025-05-27","lo":0.901,"hi":0.921,"s":13,"c":"green"},
{"d":"2025-05-27","lo":0.901,"hi":0.921,"s":14,"c":"orange"},
{"d":"2025-05-30","lo":0.901,"hi":0.918,"s":14,"c":"orange"},
{"d":"2025-06-03","lo":0.895,"hi":0.911,"s":14,"c":"orange"},
{"d":"2025-06-03","lo":0.895,"hi":0.911,"s":15,"c":"pink"},
{"d":"2025-06-13","lo":0.864,"hi":0.887,"s":15,"c":"pink"},
{"d":"2025-06-24","lo":0.842,"hi":0.864,"s":15,"c":"pink"},
{"d":"2025-06-30","lo":0.835,"hi":0.85,"s":15,"c":"pink"},
{"d":"2025-07-01","lo":0.835,"hi":0.848,"s":15,"c":"pink"},
{"d":"2025-07-01","lo":0.835,"hi":0.848,"s":16,"c":"orange"},
{"d":"2025-07-04","lo":0.837,"hi":0.843,"s":16,"c":"orange"},
{"d":"2025-07-10","lo":0.852,"hi":0.857,"s":16,"c":"orange"},
{"d":"2025-07-10","lo":0.852,"hi":0.857,"s":17,"c":"green"},
{"d":"2025-07-22","lo":0.863,"hi":0.878,"s":17,"c":"green"},
{"d":"2025-07-30","lo":0.892,"hi":0.905,"s":17,"c":"green"},
{"d":"2025-07-31","lo":0.892,"hi":0.905,"s":17,"c":"green"},
{"d":"2025-07-31","lo":0.892,"hi":0.905,"s":18,"c":"orange"},
{"d":"2025-08-06","lo":0.881,"hi":0.897,"s":18,"c":"orange"},
{"d":"2025-08-11","lo":0.887,"hi":0.897,"s":18,"c":"orange"},
{"d":"2025-08-11","lo":0.887,"hi":0.897,"s":19,"c":"green"},
{"d":"2025-08-20","lo":0.905,"hi":0.929,"s":19,"c":"green"},
{"d":"2025-08-28","lo":0.925,"hi":0.945,"s":19,"c":"green"},
{"d":"2025-09-03","lo":0.932,"hi":0.945,"s":19,"c":"green"},
{"d":"2025-09-03","lo":0.932,"hi":0.945,"s":20,"c":"orange"},
{"d":"2025-09-05","lo":0.918,"hi":0.933,"s":20,"c":"orange"},
{"d":"2025-09-09","lo":0.911,"hi":0.918,"s":20,"c":"orange"},
{"d":"2025-09-09","lo":0.911,"hi":0.918,"s":21,"c":"pink"},
{"d":"2025-09-19","lo":0.878,"hi":0.892,"s":21,"c":"pink"},
{"d":"2025-09-30","lo":0.853,"hi":0.874,"s":21,"c":"pink"},
{"d":"2025-10-17","lo":0.819,"hi":0.842,"s":21,"c":"pink"},
{"d":"2025-11-05","lo":0.791,"hi":0.819,"s":21,"c":"pink"},
{"d":"2025-11-11","lo":0.785,"hi":0.81,"s":21,"c":"pink"},
{"d":"2025-11-11","lo":0.785,"hi":0.81,"s":22,"c":"orange"},
{"d":"2025-11-12","lo":0.781,"hi":0.801,"s":22,"c":"orange"},
{"d":"2025-11-13","lo":0.778,"hi":0.798,"s":22,"c":"orange"},
{"d":"2025-11-13","lo":0.778,"hi":0.798,"s":23,"c":"pink"},
{"d":"2025-11-20","lo":0.763,"hi":0.784,"s":23,"c":"pink"},
{"d":"2025-12-01","lo":0.754,"hi":0.773,"s":23,"c":"pink"},
{"d":"2025-12-02","lo":0.754,"hi":0.77,"s":23,"c":"pink"},
{"d":"2025-12-02","lo":0.754,"hi":0.77,"s":24,"c":"orange"},
{"d":"2025-12-04","lo":0.754,"hi":0.766,"s":24,"c":"orange"},
{"d":"2025-12-05","lo":0.75,"hi":0.764,"s":24,"c":"orange"},
{"d":"2025-12-05","lo":0.75,"hi":0.764,"s":25,"c":"pink"},
{"d":"2025-12-09","lo":0.736,"hi":0.754,"s":25,"c":"pink"},
{"d":"2025-12-22","lo":0.722,"hi":0.74,"s":25,"c":"pink"},
{"d":"2025-12-24","lo":0.724,"hi":0.74,"s":25,"c":"pink"},
{"d":"2025-12-24","lo":0.724,"hi":0.74,"s":26,"c":"orange"},
{"d":"2025-12-30","lo":0.729,"hi":0.747,"s":26,"c":"orange"},
{"d":"2026-01-06","lo":0.742,"hi":0.751,"s":26,"c":"orange"},
{"d":"2026-01-06","lo":0.742,"hi":0.751,"s":27,"c":"green"},
{"d":"2026-01-16","lo":0.78,"hi":0.801,"s":27,"c":"green"},
{"d":"2026-01-23","lo":0.805,"hi":0.833,"s":27,"c":"green"},
{"d":"2026-01-29","lo":0.819,"hi":0.85,"s":27,"c":"green"},
{"d":"2026-01-29","lo":0.819,"hi":0.85,"s":28,"c":"orange"},
{"d":"2026-02-03","lo":0.805,"hi":0.826,"s":28,"c":"orange"},
{"d":"2026-02-06","lo":0.79,"hi":0.815,"s":28,"c":"orange"},
{"d":"2026-02-06","lo":0.79,"hi":0.815,"s":29,"c":"pink"},
{"d":"2026-02-11","lo":0.768,"hi":0.795,"s":29,"c":"pink"},
{"d":"2026-02-18","lo":0.713,"hi":0.75,"s":29,"c":"pink"},
{"d":"2026-02-27","lo":0.677,"hi":0.704,"s":29,"c":"pink"},
{"d":"2026-03-10","lo":0.616,"hi":0.644,"s":29,"c":"pink"},
{"d":"2026-03-18","lo":0.584,"hi":0.608,"s":29,"c":"pink"},
{"d":"2026-03-26","lo":0.571,"hi":0.594,"s":29,"c":"pink"},
{"d":"2026-03-31","lo":0.56,"hi":0.584,"s":29,"c":"pink"},
{"d":"2026-04-01","lo":0.56,"hi":0.583,"s":29,"c":"pink"},
{"d":"2026-04-01","lo":0.56,"hi":0.583,"s":30,"c":"orange"},
{"d":"2026-04-07","lo":0.567,"hi":0.589,"s":30,"c":"orange"},
{"d":"2026-04-13","lo":0.575,"hi":0.598,"s":30,"c":"orange"},
{"d":"2026-04-20","lo":0.608,"hi":0.616,"s":30,"c":"orange"},
{"d":"2026-04-20","lo":0.608,"hi":0.616,"s":31,"c":"green"},
{"d":"2026-04-24","lo":0.612,"hi":0.619,"s":31,"c":"green"},
{"d":"2026-04-29","lo":0.619,"hi":0.629,"s":31,"c":"green"},
{"d":"2026-05-05","lo":0.623,"hi":0.633,"s":31,"c":"green"}
],
"vma":[
{"d":"2024-11-20","m":2.3},{"d":"2024-12-09","m":2.1},{"d":"2024-12-16","m":2.4},{"d":"2024-12-30","m":2.2},
{"d":"2025-01-17","m":2.0},{"d":"2025-02-06","m":1.9},{"d":"2025-02-17","m":1.75},{"d":"2025-03-06","m":1.75},
{"d":"2025-03-17","m":1.7},{"d":"2025-03-19","m":1.4},{"d":"2025-03-27","m":1.2},{"d":"2025-04-01","m":1.4},
{"d":"2025-04-09","m":1.9},{"d":"2025-04-24","m":2.0},{"d":"2025-05-14","m":2.3},{"d":"2025-05-26","m":2.6},
{"d":"2025-06-11","m":2.7},{"d":"2025-07-01","m":2.7},{"d":"2025-07-03","m":2.6},{"d":"2025-07-10","m":2.0},
{"d":"2025-07-18","m":1.9},{"d":"2025-08-06","m":1.9},{"d":"2025-08-25","m":2.0},{"d":"2025-09-11","m":1.9},
{"d":"2025-09-23","m":1.75},{"d":"2025-10-15","m":1.6},{"d":"2025-10-27","m":1.4},{"d":"2025-11-14","m":1.2},
{"d":"2025-12-03","m":0.95},{"d":"2025-12-22","m":0.95},{"d":"2026-01-13","m":1.2},{"d":"2026-01-22","m":1.4},
{"d":"2026-02-03","m":1.75},{"d":"2026-02-11","m":2.1},{"d":"2026-02-20","m":2.6},{"d":"2026-03-02","m":2.6},
{"d":"2026-03-11","m":3.1},{"d":"2026-03-19","m":3.9},{"d":"2026-03-30","m":4.5},{"d":"2026-04-10","m":4.7},
{"d":"2026-04-20","m":5.1},{"d":"2026-04-29","m":5.3},{"d":"2026-05-05","m":5.1}
]
},
"layer":[
{"layer":[
{"data":{"name":"lband"},"mark":{"type":"area"},
"encoding":{
"x":{"field":"d","type":"ordinal","sort":"ascending","title":null,
"scale":{"type":"point","range":[1.3,923.7],"padding":0},
"axis":{"orient":"bottom","offset":-108,"domain":false,"values":["2024-12-02","2025-01-02","2025-02-03","2025-03-03","2025-04-01","2025-05-01","2025-06-02","2025-07-01","2025-08-01","2025-09-01","2025-10-01","2025-11-03","2025-12-01","2026-01-02","2026-02-02","2026-03-02","2026-04-01","2026-05-01"],
"labelExpr":"utcFormat(toDate(datum.value),'%m')=='01' ? utcFormat(toDate(datum.value),'%Y') : utcFormat(toDate(datum.value),'%b')",
"labelAngle":0,"labelAlign":"left","labelOffset":1,"labelBaseline":"alphabetic","labelPadding":9.5,"labelFontSize":10,"labelFontWeight":"bold","labelColor":"black","tickSize":3,"tickColor":"#888","labelOverlap":false}},
"y":{"field":"hi","type":"quantitative","scale":{"domain":[0.32,1.0941],"nice":false,"zero":false},
"axis":{"orient":"right","values":[0.5,0.55,0.6,0.65,0.7,0.75,0.8,0.85,0.9,0.95,1.0,1.05],"format":".2f","labelFontSize":10,"labelFontWeight":"bold","labelColor":"black","labelAlign":"right","labelPadding":42,"tickSize":3,"tickColor":"#888","domainColor":"#888","labelOverlap":false,
"title":"Alpha HPA Limited Ordinary (A4N) - Daily","titleAngle":0,"titleAlign":"left","titleBaseline":"alphabetic","titleX":-952,"titleY":12,"titleFontSize":10.2,"titleFontWeight":"bold","titleColor":"black"}},
"y2":{"field":"lo"},
"color":{"field":"c","type":"nominal","scale":{"domain":["pink","orange","green","lgreen","red"],"range":["#FFB4B4","#FF6A1A","#2EE82E","#3CB371","#FF7B7B"]},"legend":null},
"detail":{"field":"s","type":"nominal"}}},
{"data":{"name":"sband"},"mark":{"type":"area"},
"encoding":{
"x":{"field":"d","type":"ordinal","sort":"ascending","title":null},
"y":{"field":"hi","type":"quantitative"},
"y2":{"field":"lo"},
"color":{"field":"c","type":"nominal","scale":{"domain":["pink","orange","green","lgreen","red"],"range":["#FFB4B4","#FF6A1A","#2EE82E","#3CB371","#FF7B7B"]},"legend":null},
"detail":{"field":"s","type":"nominal"}}},
{"data":{"name":"candles"},"mark":{"type":"rule","strokeWidth":1},
"encoding":{
"x":{"field":"d","type":"ordinal","sort":"ascending","title":null},
"y":{"field":"l","type":"quantitative"},
"y2":{"field":"h"},
"color":{"condition":{"test":"datum.c >= datum.o","value":"#555555"},"value":"#000000"}}},
{"data":{"name":"candles"},"transform":[{"filter":"datum.c >= datum.o"}],
"mark":{"type":"bar","width":2,"fill":"white","stroke":"#444444","strokeWidth":0.8},
"encoding":{
"x":{"field":"d","type":"ordinal","sort":"ascending","title":null},
"y":{"field":"o","type":"quantitative"},
"y2":{"field":"c"}}},
{"data":{"name":"candles"},"transform":[{"filter":"datum.c < datum.o"}],
"mark":{"type":"bar","width":2.2,"fill":"black"},
"encoding":{
"x":{"field":"d","type":"ordinal","sort":"ascending","title":null},
"y":{"field":"o","type":"quantitative"},
"y2":{"field":"c"}}},
{"data":{"values":[{"k":1}]},"mark":{"type":"rule","color":"#999999","strokeWidth":1.5},
"encoding":{"y":{"datum":0.4688}}}
]},
{"layer":[
{"data":{"name":"candles"},"mark":{"type":"bar","width":1.2,"color":"#8A8AD2"},
"encoding":{
"x":{"field":"d","type":"ordinal","sort":"ascending","title":null},
"y":{"field":"v","type":"quantitative","scale":{"domain":[-0.749,113],"nice":false,"zero":false},
"axis":{"orient":"right","values":[0,5,10,15],"labelExpr":"datum.value == 0 ? '0' : datum.value + 'M'","labelFontSize":10,"labelFontWeight":"bold","labelColor":"black","labelAlign":"right","labelPadding":42,"tickSize":3,"tickColor":"#888","domainColor":"#888","labelOverlap":false,
"title":"Volume","titleAngle":0,"titleAlign":"left","titleBaseline":"alphabetic","titleX":-952,"titleY":481,"titleFontSize":10,"titleFontWeight":"bold","titleColor":"#8080C0"}}}},
{"data":{"name":"vma"},"mark":{"type":"line","color":"#FF2A2A","strokeWidth":1.6},
"encoding":{
"x":{"field":"d","type":"ordinal","sort":"ascending","title":null},
"y":{"field":"m","type":"quantitative"}}},
{"data":{"values":[{"k":1}]},"mark":{"type":"rule","color":"#222222","strokeWidth":1},
"encoding":{"y":{"datum":17.98}}}
]}
],
"resolve":{"scale":{"y":"independent"}}
}
